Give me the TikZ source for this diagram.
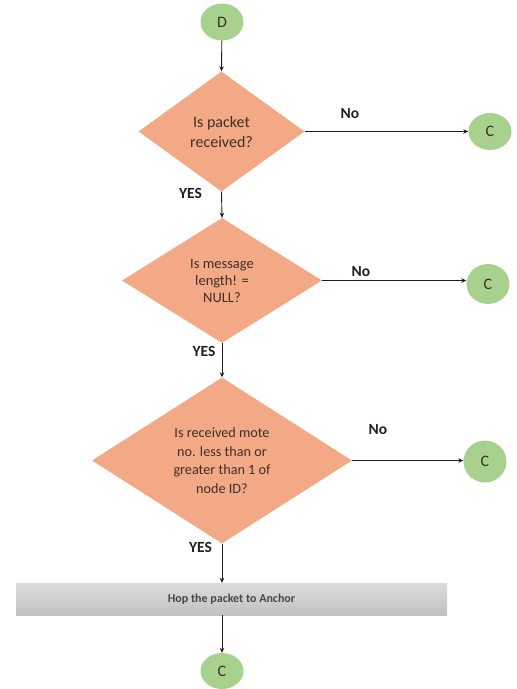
\documentclass[tikz,border=0pt]{standalone}
\usepackage{fontspec}
\setmainfont{Carlito}
\usetikzlibrary{shapes.geometric,arrows.meta}
\definecolor{decfill}{HTML}{F4A986}
\definecolor{termfill}{HTML}{A9D18E}
\definecolor{txt}{HTML}{3E2F28}
\definecolor{lineclr}{HTML}{1E1E1E}
\begin{document}
\begin{tikzpicture}[x=1pt,y=-1pt,
  term/.style={ellipse,fill=termfill,draw=none,minimum width=43pt,minimum height=37pt,inner sep=0pt,font=\fontsize{16}{18}\selectfont,text=txt},
  decision/.style={diamond,fill=decfill,draw=none,inner sep=0pt,align=center,text=txt},
  action/.style={rectangle,draw=none,top color=black!14,bottom color=black!24,minimum width=431pt,minimum height=32pt,inner sep=0pt,font=\fontsize{12}{14}\selectfont\bfseries,text=black!72},
  flow/.style={draw=lineclr,line width=0.9pt,-{Stealth[length=5pt,width=4.5pt]}},
  branch/.style={font=\fontsize{15.5}{18}\selectfont\bfseries,text=black!88},
]
\useasboundingbox (0,0) rectangle (517,689);

% start / exit terminals
\node[term] (start) at (222,22) {D};
\node[term] (exit1) at (490,131.5) {C};
\node[term,minimum height=40pt] (exit2) at (488,284) {C};
\node[term,minimum height=42pt] (exit3) at (485,461.5) {C};
\node[term,minimum height=36pt] (done) at (222,671) {C};

% checks
\node[decision,minimum width=166pt,minimum height=120pt,font=\fontsize{16}{20}\selectfont]
  (recv) at (221.5,131.5) {Is packet\\received?};
\node[decision,minimum width=200pt,minimum height=125pt,font=\fontsize{14.5}{17}\selectfont]
  (len) at (222,280.5) {Is message\\length! =\\NULL?};
\node[decision,minimum width=260pt,minimum height=166pt,font=\fontsize{14.2}{18.7}\selectfont]
  (mote) at (222,460.5) {Is received mote\\no. less than or\\greater than 1 of\\node ID?};

% forwarding step
\node[action] (hop) at (231.5,599) {Hop the packet to Anchor};

% main flow
\draw[flow] (start) -- (recv.north);
\draw[flow] (recv.south) -- (len.north);
\draw[flow] (len.south) -- (mote.north);
\draw[flow] (mote.south) -- (mote.south |- hop.north);
\draw[flow] (done.north |- hop.south) -- (done.north);

% rejection branches
\draw[flow] (recv.east) -- (recv.east -| exit1.west);
\draw[flow] (len.east) -- (len.east -| exit2.west);
\draw[flow] (mote.east) -- (mote.east -| exit3.west);

% branch labels
\node[branch] (no1) at (350,114) {No};
\node[branch] (no2) at (361,272) {No};
\node[branch] (no3) at (378,430) {No};
\node[branch] (yes1) at (190.5,193.5) {YES};
\node[branch] (yes2) at (204,351.5) {YES};
\node[branch] (yes3) at (200.5,547) {YES};
\end{tikzpicture}
\end{document}
